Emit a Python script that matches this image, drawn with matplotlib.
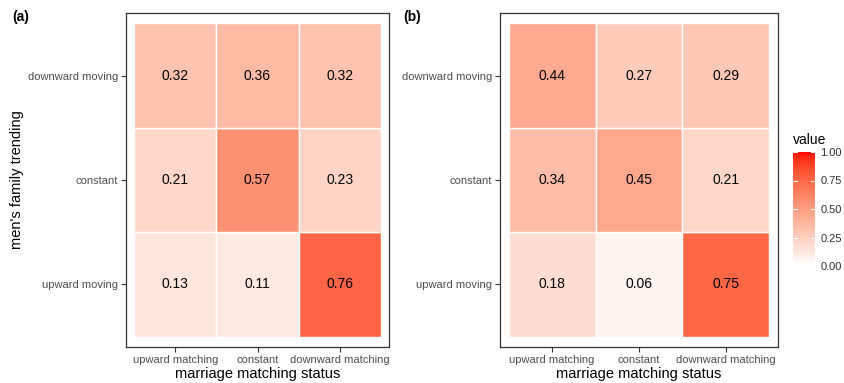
import numpy as np
import matplotlib
matplotlib.use("Agg")
import matplotlib.pyplot as plt
from matplotlib.colors import ListedColormap, Normalize
from matplotlib.cm import ScalarMappable

plt.rcParams['font.family'] = ['Liberation Sans', 'DejaVu Sans']

x_labels = ["upward matching", "constant", "downward matching"]
y_labels = ["upward moving", "constant", "downward moving"]  # bottom to top
values_a = [[0.13, 0.11, 0.76],
            [0.21, 0.57, 0.23],
            [0.32, 0.36, 0.32]]
values_b = [[0.18, 0.06, 0.75],
            [0.34, 0.45, 0.21],
            [0.44, 0.27, 0.29]]
panel_tags = ["(a)", "(b)"]
cbar_ticks = [0.00, 0.25, 0.50, 0.75, 1.00]


# ggplot-like gradient white -> red, interpolated in Lab space
def srgb_to_lin(c):
    c = np.asarray(c, float)
    return np.where(c <= 0.04045, c / 12.92, ((c + 0.055) / 1.055) ** 2.4)

def lin_to_srgb(c):
    c = np.clip(c, 0, 1)
    return np.where(c <= 0.0031308, 12.92 * c, 1.055 * c ** (1 / 2.4) - 0.055)

M = np.array([[0.4124564, 0.3575761, 0.1804375],
              [0.2126729, 0.7151522, 0.0721750],
              [0.0193339, 0.1191920, 0.9503041]])
WP = M @ np.ones(3)

def rgb_to_lab(rgb):
    xyz = M @ srgb_to_lin(rgb) / WP
    f = np.where(xyz > (6 / 29) ** 3, np.cbrt(xyz), xyz / (3 * (6 / 29) ** 2) + 4 / 29)
    return np.array([116 * f[1] - 16, 500 * (f[0] - f[1]), 200 * (f[1] - f[2])])

def lab_to_rgb(lab):
    L, a, b = lab
    fy = (L + 16) / 116
    fx = fy + a / 500
    fz = fy - b / 200
    f = np.array([fx, fy, fz])
    xyz = np.where(f > 6 / 29, f ** 3, 3 * (6 / 29) ** 2 * (f - 4 / 29)) * WP
    return lin_to_srgb(np.linalg.solve(M, xyz))

lab_lo = rgb_to_lab([1, 1, 1])
lab_hi = rgb_to_lab([1, 0, 0])
cols = [lab_to_rgb(lab_lo + t * (lab_hi - lab_lo)) for t in np.linspace(0, 1, 256)]
cmap = ListedColormap(cols)
norm = Normalize(0, 1)

fig = plt.figure(figsize=(8.45, 3.83), dpi=100)
W, H = 845, 383

def ax_px(l, t, r, b):
    return fig.add_axes([l / W, 1 - b / H, (r - l) / W, (b - t) / H])

axes = [ax_px(126, 13, 389, 347), ax_px(500, 13, 778, 347)]
data = [values_a, values_b]
tag_x = [12, 403]

for k, (ax, vals) in enumerate(zip(axes, data)):
    vals = np.array(vals)
    for i in range(3):
        for j in range(3):
            v = vals[i, j]
            ax.add_patch(plt.Rectangle((j + 0.5, i + 0.5), 1, 1,
                                       facecolor=cmap(norm(v)), edgecolor='white', linewidth=1.0))
            ax.text(j + 1, i + 1, f"{v:.2f}", ha='center', va='center', fontsize=10, color='black')
    ax.set_xlim(0.4, 3.6)
    ax.set_ylim(0.4, 3.6)
    ax.set_xticks([1, 2, 3])
    ax.set_xticklabels(x_labels)
    ax.set_yticks([1, 2, 3])
    ax.set_yticklabels(y_labels)
    ax.tick_params(axis='both', labelsize=8, labelcolor='#4D4D4D', color='#333333',
                   length=3.5, width=0.8, pad=2)
    for s in ax.spines.values():
        s.set_color('#333333')
        s.set_linewidth(0.9)
    ax.set_xlabel("marriage matching status", fontsize=10.5, labelpad=2)
    fig.text(tag_x[k] / W, 1 - 17 / H, panel_tags[k],
             fontsize=10, fontweight='bold', va='center', ha='left')

axes[0].set_ylabel("men's family trending", fontsize=10.5, labelpad=3)

cax = ax_px(793, 152, 815, 266)
cb = fig.colorbar(ScalarMappable(norm=norm, cmap=cmap), cax=cax, ticks=cbar_ticks)
cb.outline.set_visible(False)
cb.ax.set_yticklabels([f"{t:.2f}" for t in cbar_ticks])
cb.ax.tick_params(labelsize=8, labelcolor='#333333', length=0, pad=4)
for t in cbar_ticks:
    cb.ax.plot([0, 0.2], [t, t], color='white', lw=0.8, transform=cb.ax.get_yaxis_transform())
    cb.ax.plot([0.8, 1], [t, t], color='white', lw=0.8, transform=cb.ax.get_yaxis_transform())
fig.text(793 / W, 1 - 140 / H, "value", fontsize=10, va='center', ha='left')

fig.savefig("out.png", dpi=100)
